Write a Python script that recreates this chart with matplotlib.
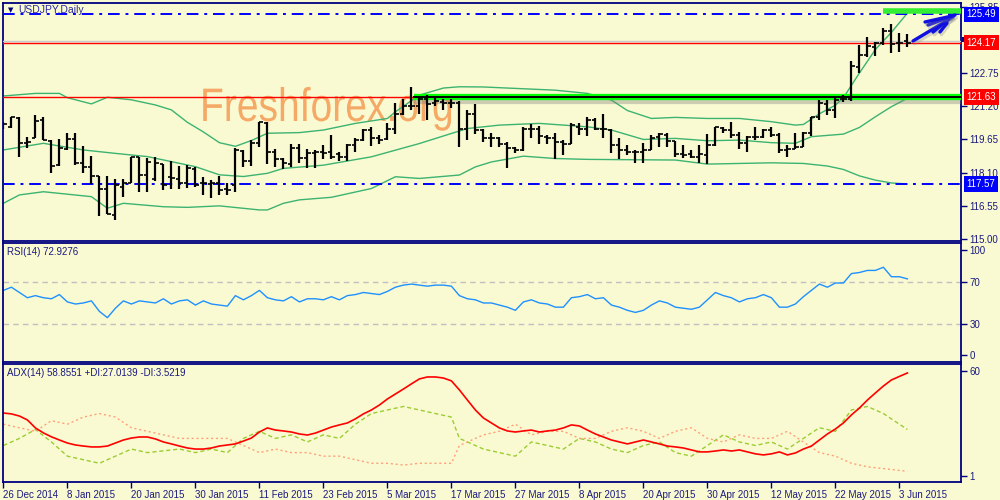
import matplotlib
matplotlib.use('Agg')
import matplotlib.pyplot as plt
import matplotlib.patheffects as pe
from matplotlib.patches import Rectangle, PathPatch
from matplotlib.textpath import TextPath
from matplotlib.font_manager import FontProperties
from matplotlib.transforms import blended_transform_factory, Affine2D

# ---------------- data ----------------
opens = [120.37,120.22,120.65,119.47,119.70,120.56,119.60,118.44,119.19,119.66,
         118.57,118.35,117.95,117.32,116.13,117.45,117.63,118.82,117.99,117.79,
         118.50,117.88,117.79,117.60,118.26,117.60,117.57,117.60,117.32,117.53,
         119.13,118.66,119.47,120.40,119.08,118.72,118.51,119.24,118.77,119.03,
         119.08,119.07,118.97,118.81,119.39,119.62,120.09,119.74,119.65,120.12,
         120.86,121.21,121.21,121.52,121.36,121.41,121.33,121.33,120.16,120.86,
         120.09,119.70,119.70,119.43,119.23,119.15,120.16,120.16,119.77,119.74,
         119.54,119.46,120.24,120.16,120.58,120.16,120.09,119.39,119.15,119.07,
         119.07,119.16,119.78,119.86,119.58,118.97,118.97,118.84,118.92,119.39,
         120.17,120.09,119.86,119.50,119.75,119.78,120.09,119.86,119.16,119.19,
         119.31,119.93,120.68,121.30,121.02,121.52,121.52,123.05,123.59,123.98,
         124.17,124.72,124.13,124.26]
highs = [120.48,120.72,120.68,119.78,120.79,120.72,119.63,119.66,119.94,119.94,
         119.35,118.88,117.95,117.95,117.79,117.79,118.85,118.85,118.77,118.85,
         118.50,118.66,118.41,118.46,118.38,117.88,117.76,117.95,117.60,119.24,
         119.16,119.63,120.45,120.45,119.19,118.77,119.44,119.44,119.19,119.16,
         119.39,119.85,119.07,119.46,119.74,120.16,120.21,119.85,120.40,121.33,
         121.52,122.08,121.67,121.72,121.64,121.52,121.56,121.46,121.02,121.30,
         120.16,119.96,119.77,119.54,119.31,120.24,120.37,120.27,119.85,119.93,
         119.62,120.43,120.40,120.71,120.63,120.86,120.16,119.74,119.39,119.15,
         119.47,119.85,119.96,119.96,119.60,119.39,119.16,119.39,119.90,120.24,
         120.24,120.48,120.01,119.81,120.21,120.12,120.24,119.96,119.39,119.93,
         120.01,120.71,121.49,121.49,121.61,121.72,123.33,124.06,124.41,124.21,
         124.83,125.04,124.63,124.57]
lows = [120.12,120.17,118.85,119.24,119.70,119.63,118.07,118.41,119.16,118.46,
        118.10,117.57,116.08,116.17,115.89,116.95,117.63,117.21,117.21,117.73,
        117.29,117.32,117.32,117.37,117.45,117.06,116.90,117.06,117.06,117.21,
        118.38,118.41,119.31,118.51,118.38,118.26,118.35,118.54,118.30,118.30,
        118.76,118.76,118.65,118.65,119.07,119.59,119.34,119.46,119.62,119.90,
        120.79,121.02,120.86,120.58,121.21,121.02,121.10,119.31,119.62,119.90,
        119.54,119.31,119.31,118.34,119.03,119.12,119.74,119.43,119.46,118.72,
        118.92,119.46,119.85,119.80,120.09,119.70,119.03,118.76,118.92,118.56,
        118.53,119.16,119.31,119.31,118.84,118.77,118.77,118.53,118.50,119.34,
        119.93,119.70,119.19,119.08,119.62,119.70,119.78,119.03,118.84,119.19,
        119.28,119.81,120.55,120.79,120.63,121.41,121.46,122.77,123.51,123.54,
        124.06,123.70,123.74,123.95]
closes = [120.37,120.68,119.47,119.55,120.53,119.63,118.41,119.24,119.66,118.57,
          118.35,117.95,117.32,116.17,117.53,117.60,118.85,117.99,118.62,118.57,
          117.53,117.84,117.63,118.30,117.53,117.60,117.60,117.29,117.29,119.16,
          118.66,119.47,120.45,119.08,118.72,118.54,119.24,118.77,119.03,119.08,
          119.00,118.81,118.81,119.39,119.62,120.09,119.74,119.62,120.12,120.86,
          121.21,121.21,121.52,121.30,121.46,121.33,121.36,120.16,120.86,120.09,
          119.70,119.74,119.43,119.23,119.15,120.16,120.16,119.80,119.74,119.54,
          119.46,120.32,120.16,120.58,120.16,120.12,119.39,119.15,119.07,119.07,
          119.16,119.70,119.90,119.58,118.97,118.92,118.84,118.97,119.39,120.24,
          120.09,119.86,119.50,119.78,119.78,120.09,119.86,119.16,119.19,119.28,
          119.93,120.68,121.33,121.02,121.49,121.52,123.08,123.59,124.01,124.17,
          124.72,124.10,124.13,124.17]

bb_up_x = [0,4,7,8,11,13,16,19,21,23,25,27,29,31,33,37,40,44,48,49,50,52,55,57,60,69,73,76,78,81,84,88,92,96,99,100,102,104,105,107,109,111,113]
bb_up_y = [121.68,121.80,121.80,121.60,121.31,121.62,121.50,121.26,121.03,120.45,120.00,119.50,119.33,119.60,119.94,119.97,120.09,120.40,120.63,120.94,121.20,121.72,122.05,122.11,122.10,121.95,121.80,121.49,121.00,120.63,120.68,120.63,120.63,120.48,120.32,120.35,120.85,121.25,121.60,122.75,123.85,124.65,125.55]
bb_mid_x = [0,5,10,14,18,24,27,30,33,35,40,46,52,56,58,62,67,73,76,80,84,88,92,96,99,101,105,107,109,111,113]
bb_mid_y = [119.16,119.47,119.16,119.00,118.85,118.38,118.00,117.92,118.07,118.30,118.45,118.84,119.46,119.93,120.16,120.32,120.40,120.24,120.09,119.65,119.70,119.59,119.62,119.50,119.47,119.78,119.90,120.21,120.71,121.18,121.57]
bb_low_x = [0,2,5,11,13,15,20,23,27,32,33,35,37,41,46,49,52,57,59,61,65,69,73,80,84,88,92,96,100,103,105,107,109,111,113]
bb_low_y = [116.67,117.06,117.21,116.98,116.44,116.67,116.51,116.48,116.55,116.36,116.36,116.67,116.83,116.95,117.36,117.91,117.83,117.99,118.37,118.60,118.87,118.76,118.72,118.70,118.69,118.50,118.53,118.56,118.53,118.41,118.25,117.95,117.75,117.62,117.57]

rsi = [62,65,60,55,57,55,54,58,51,49,50,52,42,36,45,52,49,52,51,50,
       54,49,52,53,48,52,49,48,47,57,53,57,62,55,53,52,56,51,54,54,
       53,56,53,57,58,60,59,58,61,65,67,68,67,66,67,67,66,57,54,53,
       50,50,48,46,43,51,53,50,49,46,46,55,56,58,54,55,48,46,43,41,
       43,48,52,50,46,45,44,46,53,60,57,55,51,54,55,58,55,46,46,49,
       56,62,68,65,69,69,78,79,81,81,84,75,75,72.93]

adx = [36.3,35.8,34.6,32.4,27.9,25.1,22.9,21.1,19.4,18.3,17.7,17.2,17.2,17.7,19.4,21.1,22.2,22.8,22.8,21.7,
       20.0,18.9,17.7,16.6,16.0,16.0,16.6,17.7,18.3,18.9,20.5,22.2,25.6,27.9,26.7,26.2,25.6,24.5,23.9,25.0,
       26.7,28.4,29.6,30.7,33.0,35.8,38.0,40.8,44.2,47.0,49.8,52.7,55.5,56.6,56.6,56.0,54.4,49.3,43.6,38.0,
       33.5,30.7,27.9,26.2,25.6,26.2,26.7,25.6,26.2,26.7,27.9,29.6,29.0,26.7,24.5,22.8,21.1,20.0,18.9,20.0,
       21.1,20.0,18.9,17.7,17.2,16.6,15.5,14.4,14.4,14.9,15.5,14.9,15.5,14.4,13.3,12.7,13.3,14.4,12.7,13.8,
       16.0,17.7,21.1,24.5,27.3,30.7,35.2,39.1,43.6,47.6,51.5,54.9,56.9,58.86]
pdi_x = [0,2,4,6,8,10,12,14,16,18,20,22,24,26,28,30,32,34,36,38,40,42,44,46,48,50,52,54,56,57,58,60,62,64,66,68,70,72,74,76,78,80,82,84,86,88,90,92,94,96,98,100,102,104,106,108,110,112,113]
pdi_y = [18,22,27,20,12,10,8,12,16,14,15,16,14,16,14,22,26,22,24,20,24,22,30,36,38,40,38,36,34,22,20,16,14,12,20,18,16,22,20,16,14,18,20,14,12,18,24,20,18,20,16,22,28,26,38,40,36,30,27.01]
mdi_x = [0,2,4,6,8,10,12,14,16,18,20,22,24,26,28,30,32,34,36,38,40,42,44,46,48,50,52,54,56,57,58,60,62,64,66,68,70,72,74,76,78,80,82,84,86,88,90,92,94,96,98,100,102,104,106,108,110,112,113]
mdi_y = [30,28,26,32,30,34,36,34,28,26,24,22,22,22,22,18,14,16,14,14,12,12,10,8,8,7,8,8,8,18,20,24,26,30,24,26,26,22,22,26,28,26,22,26,28,22,20,24,22,22,26,20,14,12,8,6,5,4,3.52]

date_ticks = [0,8,16,24,32,40,48,56,64,72,80,88,96,104,112]
date_labels = ['26 Dec 2014','8 Jan 2015','20 Jan 2015','30 Jan 2015','11 Feb 2015',
               '23 Feb 2015','5 Mar 2015','17 Mar 2015','27 Mar 2015','8 Apr 2015',
               '20 Apr 2015','30 Apr 2015','12 May 2015','22 May 2015','3 Jun 2015']
price_ticks = [115.00,116.55,118.10,119.65,121.20,122.75,124.30,125.85]
price_tick_labels = ['115.00','116.55','118.10','119.65','121.20','122.75','','125.85']

# ---------------- style ----------------
BG = '#FAFAD2'
NAVY = '#000080'
TXT = '#1a1a80'
plt.rcParams['font.family'] = ['Liberation Sans', 'DejaVu Sans']

fig = plt.figure(figsize=(10, 5), dpi=100, facecolor=BG)
W, H = 1000, 500
def rect(top, bottom, left=3, right=961):
    return [left / W, 1 - bottom / H, (right - left) / W, (bottom - top) / H]

ax = fig.add_axes(rect(3, 241))
ax_r = fig.add_axes(rect(243, 362), sharex=ax)
ax_a = fig.add_axes(rect(364, 482), sharex=ax)

for a in (ax, ax_r, ax_a):
    a.set_facecolor(BG)
    for s in a.spines.values():
        s.set_color(NAVY)
        s.set_linewidth(1.3)
    a.yaxis.tick_right()
    a.tick_params(axis='y', direction='out', length=4, width=1, colors=NAVY,
                  labelcolor=TXT, labelsize=7, pad=2)
    a.tick_params(axis='x', length=0, labelbottom=False)

n = len(closes)
idx = list(range(n))
ax.set_xlim(-0.05, 119.7)
ax.set_ylim(114.91, 126.02)
ax_r.set_ylim(-6.2, 107.1)
ax_a.set_ylim(-2.55, 63.9)

# ---- main price panel ----
# watermark: condensed Arial-like text drawn as a path in pixel space
wm_path = TextPath((0, 0), 'Freshforex.org', size=47,
                   prop=FontProperties(family='Liberation Sans'))
wm_tr = Affine2D().scale(0.83, 1.0).translate(200, H - 121)
ax.add_patch(PathPatch(wm_path, transform=wm_tr, fc='#F5A05A', ec='none', alpha=0.9,
                       zorder=0.5))

ax.plot(bb_up_x, bb_up_y, color='#3CB371', lw=1, zorder=2)
ax.plot(bb_mid_x, bb_mid_y, color='#3CB371', lw=1, zorder=2)
ax.plot(bb_low_x, bb_low_y, color='#3CB371', lw=1, zorder=2)

ax.axhline(125.49, color='#0000FF', lw=1.4, dashes=(6, 3, 1.5, 3), zorder=3)
ax.axhline(117.57, color='#0000FF', lw=1.4, dashes=(6, 3, 1.5, 3), zorder=3)
ax.axhline(124.25, color='#C8C8C8', lw=1, zorder=3)
ax.axhline(124.17, color='#FF0000', lw=1, zorder=3)
ax.axhline(121.63, color='#FF0000', lw=1, zorder=3)

ax.plot([51.3, 119.7], [121.63, 121.63], color='#00FF00', lw=4.5, solid_capstyle='butt',
        zorder=3.5, path_effects=[pe.SimpleLineShadow(offset=(0, -3), shadow_color='#777777', alpha=0.35),
                                  pe.Normal()])
ax.plot([51.3, 119.7], [121.63, 121.63], color='black', lw=1.4, zorder=3.6)
ax.plot([110.0, 119.7], [125.65, 125.65], color='#33EE33', lw=4, solid_capstyle='butt', zorder=3.5)

ax.vlines(idx, lows, highs, color='black', lw=1.6, zorder=4)
ax.hlines(opens, [i - 0.45 for i in idx], idx, color='black', lw=1.2, zorder=4)
ax.hlines(closes, idx, [i + 0.45 for i in idx], color='black', lw=1.2, zorder=4)

ax.set_yticks(price_ticks)
ax.set_yticklabels(price_tick_labels)

# right side price boxes
tr = blended_transform_factory(ax.transAxes, ax.transData)
ax.add_patch(Rectangle((1.001, 124.22), 0.038, 0.22, transform=tr, fc=NAVY, ec='none',
                       clip_on=False, zorder=9))
def pbox(val, fc, z):
    ax.text(1.006, val, '%.2f' % val, transform=tr, fontsize=7, color='white', ha='left',
            va='center', zorder=z, clip_on=False,
            bbox=dict(boxstyle='square,pad=0.28', fc=fc, ec='none'))
pbox(125.49, '#0000FF', 11)
pbox(124.17, '#FF0000', 11)
pbox(121.63, '#FF0000', 11)
pbox(117.57, '#0000FF', 11)

# hand-drawn blue arrow (figure pixel coordinates)
arrow_strokes = [[(913, 41), (953, 17)], [(928, 25), (955, 15)], [(933, 32), (950, 18)],
                 [(940, 32), (947, 23)], [(925, 22), (952, 16)]]
for st in arrow_strokes:
    xs = [p[0] / W for p in st]
    ys = [1 - p[1] / H for p in st]
    fig.add_artist(plt.Line2D(xs, ys, color='#1010E0', lw=2.4, solid_capstyle='round',
                              path_effects=[pe.SimpleLineShadow(offset=(1, -2), shadow_color='#888888', alpha=0.3),
                                            pe.Normal()]))

fig.text(8 / W, 1 - 10 / H, '\u25BC', fontsize=5, color=NAVY, va='center', ha='left', family='DejaVu Sans')
fig.text(18 / W, 1 - 10 / H, 'USDJPY,Daily', fontsize=7.5, color='#2a2aa0', va='center', ha='left')

# ---- RSI panel ----
ax_r.axhline(70, color='#C0C0C0', lw=1, dashes=(4, 3))
ax_r.axhline(30, color='#C0C0C0', lw=1, dashes=(4, 3))
ax_r.plot(idx, rsi, color='#1E90FF', lw=1)
ax_r.set_yticks([0, 30, 70, 100])
ax_r.set_yticklabels(['0', '30', '70', '100'])
ax_r.text(4 / 958, (362 - 252) / 119, 'RSI(14) 72.9276', transform=ax_r.transAxes,
          fontsize=7, color=TXT, va='center', ha='left')

# ---- ADX panel ----
ax_a.plot(pdi_x, pdi_y, color='#9ACD32', lw=1, dashes=(3, 2))
ax_a.plot(mdi_x, mdi_y, color='#FFA07A', lw=1, dashes=(1.5, 2))
ax_a.plot(idx, adx, color='#FF0000', lw=1.2)
ax_a.set_yticks([1, 60])
ax_a.set_yticklabels(['1', '60'])
ax_a.text(4 / 958, (482 - 373) / 118, 'ADX(14) 58.8551 +DI:27.0139 -DI:3.5219', transform=ax_a.transAxes,
          fontsize=7, color=TXT, va='center', ha='left')

ax_a.set_xticks(date_ticks)
ax_a.set_xticklabels(date_labels)
ax_a.tick_params(axis='x', direction='out', length=4, width=1, colors=NAVY, labelcolor=TXT,
                 labelsize=7, labelbottom=True, pad=2)
for lbl in ax_a.get_xticklabels():
    lbl.set_ha('left')

fig.savefig('out.png', dpi=100, facecolor=BG)
